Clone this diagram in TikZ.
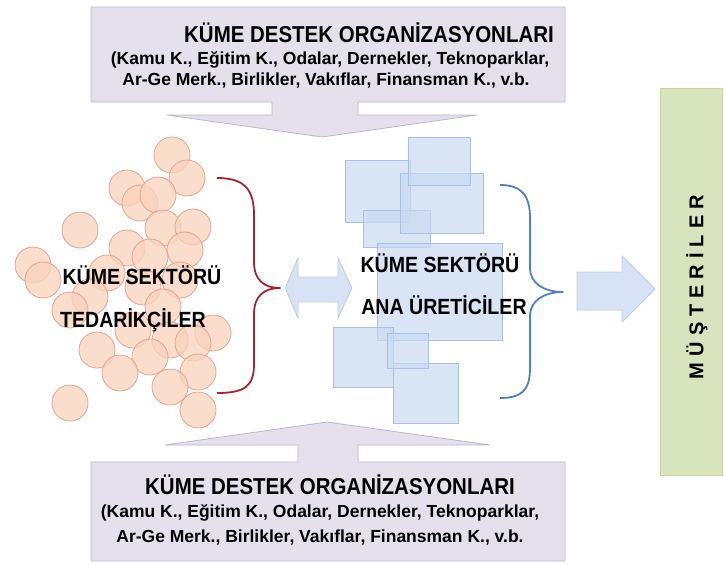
\documentclass[tikz,border=0pt]{standalone}
\usepackage{fontspec}
\setmainfont{Liberation Sans}
\newfontfamily\condbf[FakeStretch=0.89]{Liberation Sans Bold}
\newfontfamily\plainbf{Liberation Sans Bold}
\newfontfamily\spacedbf[LetterSpace=30]{Liberation Sans Bold}
\definecolor{lavfill}{HTML}{E6E0EC}
\definecolor{lavline}{HTML}{BFB3D1}
\definecolor{peachfill}{HTML}{F9D3BD}
\definecolor{peachline}{HTML}{E0A593}
\definecolor{tilefill}{HTML}{C9DAF0}
\definecolor{tileline}{HTML}{A9C1E2}
\definecolor{bracered}{HTML}{A0282D}
\definecolor{braceblue}{HTML}{4F81BD}
\definecolor{greenfill}{HTML}{D7E4BD}
\definecolor{greenline}{HTML}{C3D69B}
\tikzset{
  bubble/.style={fill=peachfill, fill opacity=0.78, draw=peachline, line width=0.8pt},
  tile/.style={fill=tilefill, fill opacity=0.7, draw=tileline, line width=0.8pt},
  callout/.style={fill=lavfill, draw=lavline, line width=0.8pt},
  blockarrow/.style={fill=tilefill!75, draw=tileline!80, line width=0.8pt},
  brace/.style={line width=1.8pt, line join=round},
  title/.style={inner sep=0pt, font=\condbf\fontsize{23}{23}\selectfont},
  body/.style={inner sep=0pt, font=\plainbf\fontsize{17.5}{17.5}\selectfont},
  sector/.style={inner sep=0pt, font=\condbf\fontsize{22}{22}\selectfont}
}
\begin{document}
\begin{tikzpicture}[x=1pt, y=-1pt]
\useasboundingbox (0,0) rectangle (724,565);
\foreach \cx/\cy in {172/155,187/178,127/188,140/203,158/195,163/228,193/227,80/230,127/248,185/250,150/257,33/265,43/280,107/273,90/297,70/310,143/287,180/280,163/307,133/330,170/340,213/333,193/343,97/350,150/357,120/373,198/372,170/387,70/403,198/410}
  \draw[bubble] (\cx,\cy) circle[radius=18pt];
\foreach \xa/\ya/\xb/\yb in {345/160/410/222,363/210/430/247,400/173/483/233,408/137/470/185,377/243/502/340,333/327/393/387,393/363/458/423,387/333/428/368}
  \draw[tile] (\xa,\ya) rectangle (\xb,\yb);
\draw[brace, bracered] (217,178) .. controls (245,178) and (254,190) .. (254,215) -- (254,262) .. controls (254,280) and (264,288) .. (280,288) .. controls (264,288) and (254,296) .. (254,314) -- (254,364) .. controls (254,386) and (245,393) .. (217,393);
\draw[brace, braceblue] (500,185) .. controls (522,185) and (530,196) .. (530,218) -- (530,268) .. controls (530,284) and (545,292) .. (563,292) .. controls (545,292) and (530,300) .. (530,316) -- (530,368) .. controls (530,390) and (522,398) .. (500,398);
\draw[blockarrow] (285,288) -- (298,258) -- (298,277) -- (338,277) -- (338,258) -- (352,288) -- (338,318) -- (338,302) -- (298,302) -- (298,318) -- cycle;
\draw[blockarrow] (577,272) -- (622,272) -- (622,256) -- (655,289) -- (622,322) -- (622,310) -- (577,310) -- cycle;
\draw[callout] (91,7) -- (565,7) -- (565,102) -- (358,102) -- (358,115) -- (477,115) -- (322,137) -- (167,115) -- (272,115) -- (272,102) -- (91,102) -- cycle;
\draw[callout] (91,462) -- (298,462) -- (298,445) -- (165,445) -- (327,422) -- (490,445) -- (358,445) -- (358,462) -- (565,462) -- (565,561) -- (91,561) -- cycle;
\draw[fill=greenfill, draw=greenline, line width=0.8pt] (660,88) rectangle (722,475);
\node[title] (topTitle) at (369,33) {KÜME DESTEK ORGANİZASYONLARI};
\node[body] (topLineA) at (330,60) {(Kamu K., Eğitim K., Odalar, Dernekler, Teknoparklar,};
\node[body] (topLineB) at (326,81) {Ar-Ge Merk., Birlikler, Vakıflar, Finansman K., v.b.};
\node[title] (botTitle) at (330,485) {KÜME DESTEK ORGANİZASYONLARI};
\node[body] (botLineA) at (320,513) {(Kamu K., Eğitim K., Odalar, Dernekler, Teknoparklar,};
\node[body] (botLineB) at (320,538) {Ar-Ge Merk., Birlikler, Vakıflar, Finansman K., v.b.};
\node[sector] (supOne) at (142,275) {KÜME SEKTÖRÜ};
\node[sector] (supTwo) at (133,320) {TEDARİKÇİLER};
\node[sector] (prodOne) at (440,263) {KÜME SEKTÖRÜ};
\node[sector] (prodTwo) at (444,305) {ANA ÜRETİCİLER};
\node[inner sep=0pt, rotate=90, font=\spacedbf\fontsize{20}{20}\selectfont] (customers) at (697,287) {MÜŞTERİLER};
\end{tikzpicture}
\end{document}
